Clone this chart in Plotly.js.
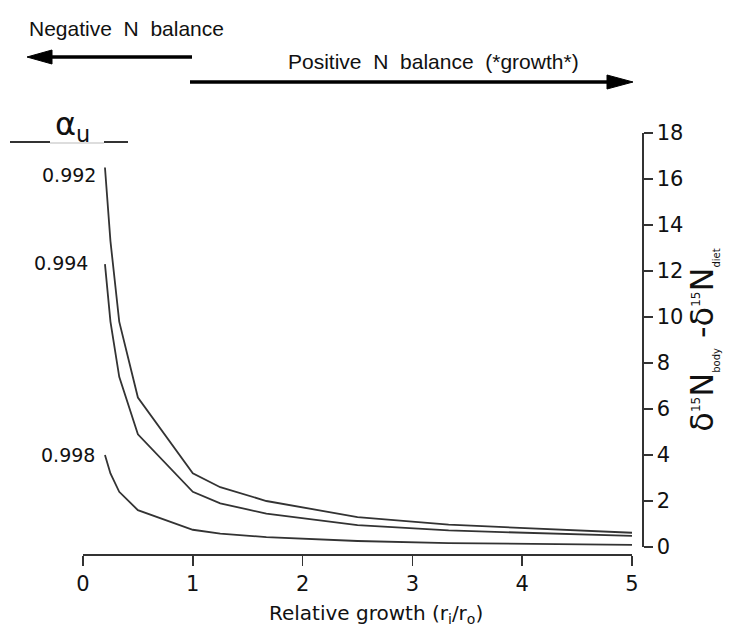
<!DOCTYPE html>
<html>
<head>
<meta charset="utf-8">
<script src="https://cdn.plot.ly/plotly-3.0.1.min.js"></script>
<style>html,body{margin:0;padding:0;background:#fff;}#chart{width:743px;height:634px;}</style>
</head>
<body>
<div id="chart"></div>
<script>
// ---- data ----
const growth = [0.2, 0.25, 0.33, 0.5, 1, 1.25, 1.67, 2.5, 3.33, 5];
const alphaLabels = ['0.992', '0.994', '0.998'];
const curve0992 = [16.5, 13.3, 9.8, 6.5, 3.2, 2.6, 2.0, 1.3, 0.97, 0.62];
const curve0994 = [12.3, 9.8, 7.4, 4.9, 2.4, 1.9, 1.45, 0.95, 0.72, 0.48];
const curve0998 = [4.0, 3.2, 2.4, 1.6, 0.75, 0.58, 0.43, 0.26, 0.17, 0.09];
const xTicks = [0, 1, 2, 3, 4, 5];
const yTicks = [0, 2, 4, 6, 8, 10, 12, 14, 16, 18];

// ---- layout helpers (pixel -> paper) ----
const W = 743, H = 634, ML = 83, MR = 101, MT = 133, MB = 80;
const px = p => (p - ML) / (W - ML - MR);
const py = p => (H - MB - p) / (H - MT - MB);

const lineColor = '#333';
const curves = [curve0992, curve0994, curve0998];
const traces = curves.map((c, i) => ({
  x: growth, y: c, type: 'scatter', mode: 'lines',
  line: {color: lineColor, width: 1.8}, name: alphaLabels[i], hoverinfo: 'skip'
}));

const font = '"DejaVu Sans", Arial, sans-serif';
const arial = 'Arial, "Liberation Sans", sans-serif';
const sp = '\u00A0\u00A0';
const labelShift = [[-7, -7], [-15, 1], [-8, 0]];

const annotations = curves.map((c, i) => ({
  x: growth[0], y: c[0], xref: 'x', yref: 'y', text: alphaLabels[i],
  showarrow: false, xanchor: 'right', yanchor: 'middle',
  xshift: labelShift[i][0], yshift: labelShift[i][1],
  font: {family: font, size: 19, color: '#111'}
}));
annotations.push(
  {x: px(27), y: py(28), xref: 'paper', yref: 'paper', xanchor: 'left', yanchor: 'middle',
   text: 'Negative' + sp + 'N' + sp + 'balance', showarrow: false,
   font: {family: arial, size: 21, color: '#111'}},
  {x: px(286), y: py(61), xref: 'paper', yref: 'paper', xanchor: 'left', yanchor: 'middle',
   text: 'Positive' + sp + 'N' + sp + 'balance' + sp + '(*growth*)', showarrow: false,
   font: {family: arial, size: 21, color: '#111'}},
  {x: px(72), y: py(126), xref: 'paper', yref: 'paper', xanchor: 'center', yanchor: 'middle',
   text: 'α<sub>u</sub>', showarrow: false,
   font: {family: font, size: 32, color: '#111'}},
  {x: px(376), y: py(614), xref: 'paper', yref: 'paper', xanchor: 'center', yanchor: 'middle',
   text: 'Relative growth (r<sub>i</sub>/r<sub>o</sub>)', showarrow: false,
   font: {family: font, size: 20, color: '#111'}}
);

const shapes = [
  // left arrow
  {type: 'line', xref: 'paper', yref: 'paper', x0: px(48), x1: px(192), y0: py(57), y1: py(57),
   line: {color: '#000', width: 3.5}},
  {type: 'path', xref: 'paper', yref: 'paper',
   path: `M ${px(27)} ${py(57)} L ${px(52)} ${py(50)} L ${px(52)} ${py(64)} Z`,
   fillcolor: '#000', line: {color: '#000', width: 1}},
  // right arrow
  {type: 'line', xref: 'paper', yref: 'paper', x0: px(190), x1: px(612), y0: py(82), y1: py(82),
   line: {color: '#000', width: 3.5}},
  {type: 'path', xref: 'paper', yref: 'paper',
   path: `M ${px(633)} ${py(82)} L ${px(607)} ${py(75)} L ${px(607)} ${py(89)} Z`,
   fillcolor: '#000', line: {color: '#000', width: 1}},
  // alpha_u rule
  {type: 'line', xref: 'paper', yref: 'paper', x0: px(10), x1: px(50), y0: py(142), y1: py(142),
   line: {color: '#333', width: 2}},
  {type: 'line', xref: 'paper', yref: 'paper', x0: px(50), x1: px(104), y0: py(143), y1: py(143),
   line: {color: '#bbb', width: 1}},
  {type: 'line', xref: 'paper', yref: 'paper', x0: px(104), x1: px(128), y0: py(142), y1: py(142),
   line: {color: '#333', width: 2}}
];

const layout = {
  width: W, height: H,
  margin: {l: ML, r: MR, t: MT, b: MB, pad: 0},
  paper_bgcolor: '#fff', plot_bgcolor: '#fff',
  showlegend: false,
  font: {family: font, color: '#111'},
  xaxis: {
    range: [0, 5], domain: [0, (632 - ML) / (W - ML - MR)],
    anchor: 'free', position: 0,
    tickvals: xTicks, ticktext: xTicks.map(String),
    showgrid: false, zeroline: false, showline: true, linecolor: lineColor, linewidth: 1.5,
    ticks: 'outside', ticklen: 10, tickwidth: 1.5, tickcolor: lineColor,
    tickfont: {family: font, size: 21, color: '#111'}
  },
  yaxis: {
    range: [0, 18], domain: [7 / (H - MT - MB), 1],
    side: 'right', anchor: 'free', position: 1,
    tickvals: yTicks, ticktext: yTicks.map(String),
    showgrid: false, zeroline: false, showline: true, linecolor: lineColor, linewidth: 1.5,
    ticks: 'outside', ticklen: 9, tickwidth: 1.5, tickcolor: lineColor,
    tickfont: {family: font, size: 21, color: '#111'},
    title: {
      text: 'δ<sup><span style="font-size:12px">15</span></sup>N<sub><span style="font-size:10px">body</span></sub> -δ<sup><span style="font-size:12px">15</span></sup>N<sub><span style="font-size:10px">diet</span></sub>',
      font: {family: font, size: 32, color: '#111'}, standoff: 4
    }
  },
  annotations: annotations,
  shapes: shapes
};

Plotly.newPlot('chart', traces, layout, {staticPlot: true, displayModeBar: false});
</script>
</body>
</html>
